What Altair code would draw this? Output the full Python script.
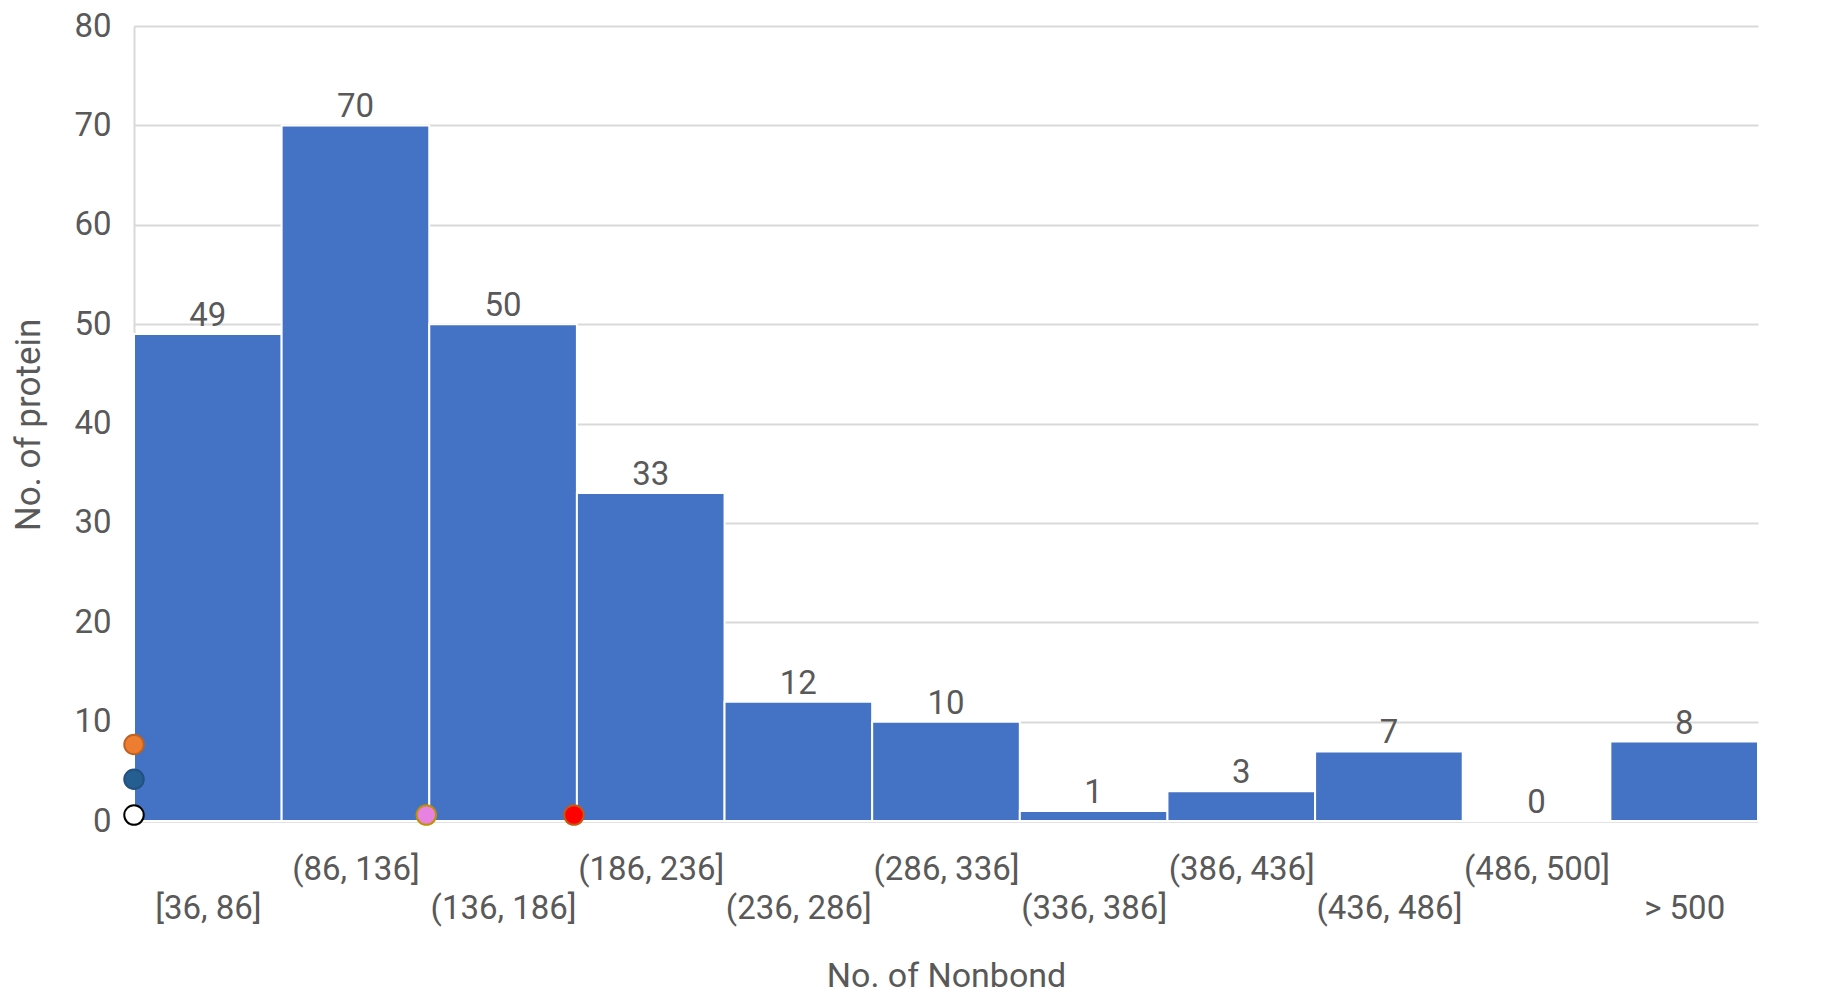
import altair as alt
import pandas as pd

# ---- data ----
categories = ["[36, 86]", "(86, 136]", "(136, 186]", "(186, 236]", "(236, 286]",
              "(286, 336]", "(336, 386]", "(386, 436]", "(436, 486]", "(486, 500]", "> 500"]
counts = [49, 70, 50, 33, 12, 10, 1, 3, 7, 0, 8]

# stray marker points (x in category-boundary units, y in counts)
marker_x = [0.0, 0.0, 0.0, 1.98, 2.98]
marker_y = [7.7, 4.2, 0.6, 0.6, 0.6]
marker_fill = ["#ED7D31", "#255E91", "#FFFFFF", "#E882E0", "#FF0000"]
marker_stroke = ["#C0621F", "#22507F", "#000000", "#BF9000", "#C55A11"]
marker_id = ["a", "b", "c", "d", "e"]

# ---- tables ----
bars = pd.DataFrame({
    "cat": categories,
    "count": counts,
    "start": list(range(len(categories))),
    "end": [i + 1 for i in range(len(categories))],
    "mid": [i + 0.5 for i in range(len(categories))],
})
markers = pd.DataFrame({"x": marker_x, "y": marker_y, "id": marker_id})

FONT = "Roboto"
GRAY = "#595959"
W, H = 1624, 795

label_map = "[" + ",".join("'" + c + "'" for c in categories) + "][floor(datum.value)]"

x_scale = alt.Scale(domain=[0, len(categories)], nice=False, zero=False)
y_scale = alt.Scale(domain=[0, 80], nice=False)

x_axis = alt.Axis(
    values=[i + 0.5 for i in range(len(categories))],
    labelExpr=label_map,
    title="No. of Nonbond",
    titleFont=FONT, titleFontSize=34, titleFontWeight="normal", titleColor=GRAY,
    titleX=W / 2, titleY=155, titleBaseline="middle",
    labelFont=FONT, labelFontSize=33, labelColor=GRAY,
    labelPadding={"condition": {"test": "floor(datum.value) % 2 == 1", "value": 32}, "value": 71},
    labelBaseline="top",
    ticks=False, tickSize=0, grid=False,
    domain=True, domainColor="#D9D9D9", domainWidth=2,
    labelOverlap=False, labelFlush=False,
)

y_axis = alt.Axis(
    values=list(range(0, 81, 10)),
    title="No. of protein",
    titleFont=FONT, titleFontSize=35, titleFontWeight="normal", titleColor=GRAY,
    titleX=-106, titleY=H / 2 + 1, titleBaseline="middle", titleAngle=270,
    labelFont=FONT, labelFontSize=33, labelColor=GRAY, labelPadding=23,
    ticks=False, tickSize=0,
    grid=True, gridColor="#D9D9D9", gridWidth=2,
    domain=True, domainColor="#D9D9D9", domainWidth=2,
)

bar_layer = alt.Chart(bars).mark_rect(color="#4472C4", stroke="#FFFFFF", strokeWidth=2).encode(
    x=alt.X("start:Q", scale=x_scale, axis=x_axis),
    x2="end:Q",
    y=alt.Y("count:Q", scale=y_scale, axis=y_axis),
    y2=alt.datum(0),
)

text_layer = alt.Chart(bars).mark_text(
    font=FONT, fontSize=33, color=GRAY, baseline="alphabetic", dy=-8
).encode(
    x=alt.X("mid:Q", scale=x_scale),
    y=alt.Y("count:Q", scale=y_scale),
    text="count:Q",
)

point_layer = alt.Chart(markers).mark_point(filled=True, size=380, strokeWidth=2, opacity=1).encode(
    x=alt.X("x:Q", scale=x_scale),
    y=alt.Y("y:Q", scale=y_scale),
    fill=alt.Fill("id:N", scale=alt.Scale(domain=marker_id, range=marker_fill), legend=None),
    stroke=alt.Stroke("id:N", scale=alt.Scale(domain=marker_id, range=marker_stroke), legend=None),
)

chart = alt.layer(bar_layer, text_layer, point_layer).properties(
    width=W, height=H,
    autosize=alt.AutoSizeParams(type="none"),
    padding={"left": 126, "top": 18, "right": 50, "bottom": 182},
    background="#FFFFFF",
).configure_view(stroke=None)

chart.save("out.html", embed_options={"renderer": "svg", "actions": False})
